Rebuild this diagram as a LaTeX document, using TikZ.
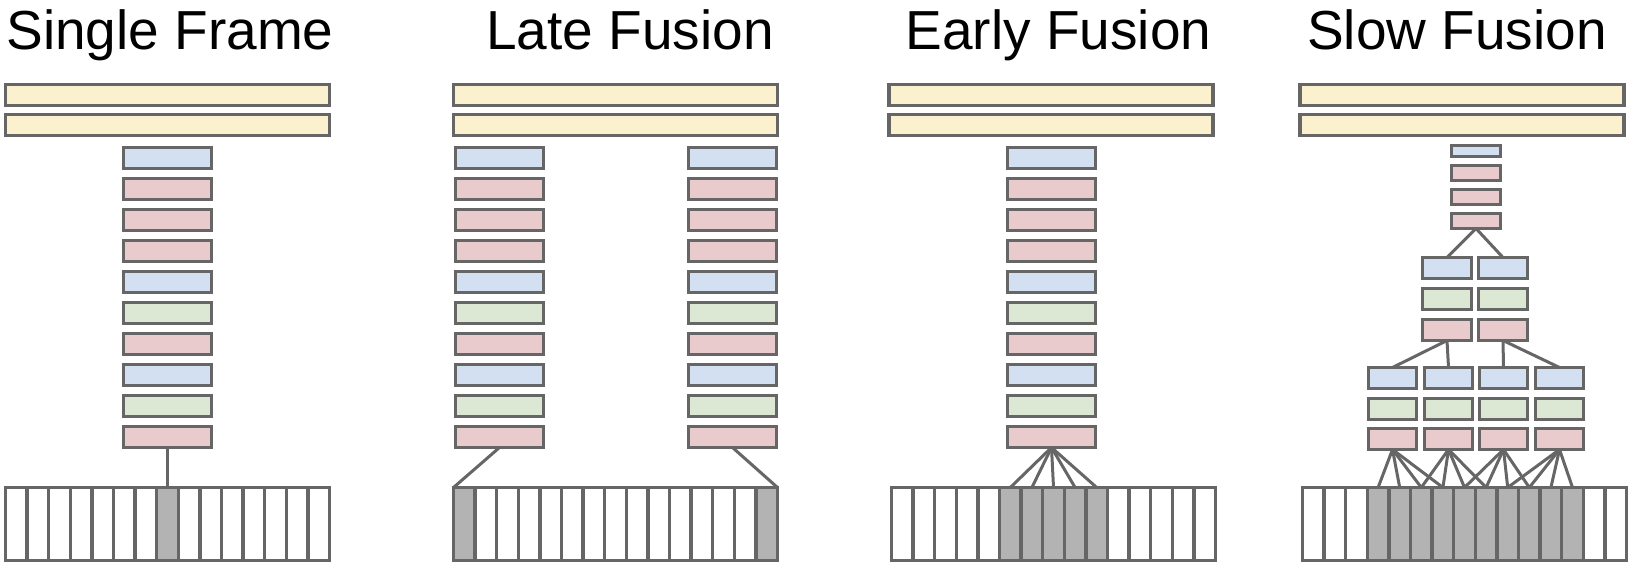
\documentclass[tikz,border=0pt]{standalone}
\usepackage{fontspec}
\setmainfont{Liberation Sans}
\usetikzlibrary{positioning}

\definecolor{bordergray}{RGB}{102,102,102}
\definecolor{fcyellow}{RGB}{252,241,206}
\definecolor{poolblue}{RGB}{211,224,241}
\definecolor{convpink}{RGB}{234,203,205}
\definecolor{normgreen}{RGB}{220,232,211}
\definecolor{framegray}{RGB}{179,179,179}

\tikzstyle{layer}  = [draw=bordergray, line width=1.7pt, inner sep=0pt, outer sep=0pt, minimum width=44pt, minimum height=10.5pt]
\tikzstyle{fc}     = [layer, fill=fcyellow, minimum width=162pt]
\tikzstyle{pool}   = [layer, fill=poolblue]
\tikzstyle{conv}   = [layer, fill=convpink]
\tikzstyle{norm}   = [layer, fill=normgreen]
\tikzstyle{slim}   = [minimum width=24.5pt]
\tikzstyle{frame}  = [draw=bordergray, line width=1.7pt, inner sep=0pt, outer sep=0pt, minimum width=10.8pt, minimum height=36.5pt]
\tikzstyle{edge}   = [draw=bordergray, line width=1.5pt]
\tikzstyle{title}  = [anchor=base, inner sep=0pt, font=\fontsize{27.5}{30}\selectfont]

% strip of 15 frames: name prefix, left x, gray frames
\newcommand{\framestrip}[3]{%
  \foreach \i in {0,...,14}{%
    \gdef\fcol{white}%
    \foreach \g in {#3}{\ifnum\i=\g\relax\gdef\fcol{framegray}\fi}%
    \node[frame, fill=\fcol] (#1\i) at ({#2+1.5+21.6*(\i+0.5)},524) {};
  }}

\begin{document}
\begin{tikzpicture}[x=0.5pt, y=-0.5pt]
\useasboundingbox (0,0) rectangle (1632,567);

\node[title] (T1) at (170,50) {Single Frame};
\node[title] (T2) at (630,50) {Late Fusion};
\node[title] (T3) at (1058.5,50) {Early Fusion};
\node[title] (T4) at (1457,50) {Slow Fusion};

% single frame
\node[fc] (SY1) at (167.5,95) {};
\node[fc] (SY2) at (167.5,125) {};
\foreach \c [count=\k from 0] in {pool,conv,conv,conv,pool,norm,conv,pool,norm,conv}
  \node[\c] (S\k) at (167.5,{158+31*\k}) {};
\framestrip{SF}{4}{7}
\draw[edge] (S9.south) -- (SF7.north);

% late fusion
\node[fc] (LY1) at (615.5,95) {};
\node[fc] (LY2) at (615.5,125) {};
\foreach \c [count=\k from 0] in {pool,conv,conv,conv,pool,norm,conv,pool,norm,conv}{
  \node[\c] (LA\k) at (499.5,{158+31*\k}) {};
  \node[\c] (LB\k) at (732.5,{158+31*\k}) {};
}
\framestrip{LF}{452}{0,14}
\draw[edge] (LA9.south) -- (LF0.north west);
\draw[edge] (LB9.south) -- (LF14.north east);

% early fusion
\node[fc] (EY1) at (1051,95) {};
\node[fc] (EY2) at (1051,125) {};
\foreach \c [count=\k from 0] in {pool,conv,conv,conv,pool,norm,conv,pool,norm,conv}
  \node[\c] (E\k) at (1051.5,{158+31*\k}) {};
\framestrip{EF}{890}{5,...,9}
\foreach \i in {5,...,9}
  \draw[edge] (E9.south) -- (EF\i.north);

% slow fusion
\node[fc] (WY1) at (1462,95) {};
\node[fc] (WY2) at (1462,125) {};
\node[pool, slim, minimum height=5.5pt] (W0) at (1476,151) {};
\node[conv, slim, minimum height=7.5pt] (W1) at (1476,173) {};
\node[conv, slim, minimum height=7.5pt] (W2) at (1476,197) {};
\node[conv, slim, minimum height=7.5pt] (W3) at (1476,221) {};

\foreach \x [count=\j from 0] in {1447,1503}
  \foreach \c/\y [count=\k from 0] in {pool/268,norm/299,conv/330}
    \node[\c, slim] (V\j\k) at (\x,\y) {};

\foreach \x [count=\j from 0] in {1392.5,1448.5,1503.5,1559.5}
  \foreach \c/\y [count=\k from 0] in {pool/378,norm/409,conv/439}
    \node[\c, slim, minimum width=24pt] (U\j\k) at (\x,\y) {};

\framestrip{WF}{1301}{3,...,12}

\draw[edge] (W3.south) -- (V00.north);
\draw[edge] (W3.south) -- (V10.north);
\draw[edge] (V02.south) -- (U00.north);
\draw[edge] (V02.south) -- (U10.north);
\draw[edge] (V12.south) -- (U20.north);
\draw[edge] (V12.south) -- (U30.north);
\foreach \j in {0,...,3}
  \foreach \d in {0,...,3}{
    \pgfmathtruncatemacro\f{3+2*\j+\d}
    \draw[edge] (U\j2.south) -- (WF\f.north);
  }

\end{tikzpicture}
\end{document}
